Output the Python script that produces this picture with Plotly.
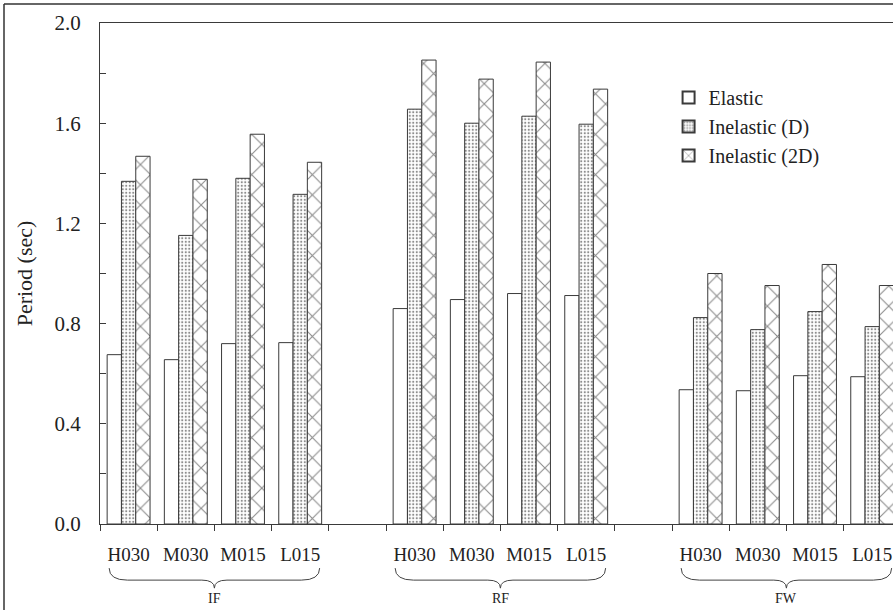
import plotly.graph_objects as go

groups = ["IF", "RF", "FW"]
categories = ["H030", "M030", "M015", "L015"]
series_names = ["Elastic", "Inelastic (D)", "Inelastic (2D)"]

elastic = [0.676, 0.656, 0.720, 0.724,
           0.860, 0.896, 0.920, 0.912,
           0.536, 0.532, 0.592, 0.588]
inelastic_d = [1.368, 1.152, 1.380, 1.316,
               1.656, 1.600, 1.628, 1.596,
               0.824, 0.776, 0.848, 0.788]
inelastic_2d = [1.468, 1.376, 1.556, 1.444,
                1.852, 1.776, 1.844, 1.736,
                1.000, 0.952, 1.036, 0.952]

y_ticks = [0.0, 0.4, 0.8, 1.2, 1.6, 2.0]

FONT = "Liberation Serif, Times New Roman, serif"
LINE = "#3a3a3a"

# slot positions: 4 categories per group, one empty slot between groups
slot = len(categories) + 1
xpos = [g * slot + i for g in range(len(groups)) for i in range(len(categories))]
xlabels = [c for g in groups for c in categories]

styles = [
    dict(shape="", fg="#333333", size=8, sol=0.2),
    dict(shape=".", fg="#1a1a1a", size=3.5, sol=0.3),
    dict(shape="x", fg="#1a1a1a", size=14.3, sol=0.15),
]

fig = go.Figure()
for name, vals, st in zip(series_names, [elastic, inelastic_d, inelastic_2d], styles):
    marker = dict(color="white", line=dict(color=LINE, width=1))
    if st["shape"]:
        marker["pattern"] = dict(shape=st["shape"], fgcolor=st["fg"], bgcolor="white",
                                 size=st["size"], solidity=st["sol"], fillmode="overlay")
    fig.add_trace(go.Bar(x=xpos, y=vals, name=name, marker=marker))

n_slots = len(groups) * slot - 1
x_range = [-0.5, -0.5 + 793 / 57.2]

fig.update_layout(
    width=893, height=610,
    margin=dict(l=100, r=0, t=23, b=86),
    paper_bgcolor="white", plot_bgcolor="white",
    barmode="group", bargap=0.25, bargroupgap=0,
    font=dict(family=FONT, size=20, color="#222222"),
    showlegend=True,
    legend=dict(x=0.717, y=0.89, xanchor="left", yanchor="top",
                bgcolor="rgba(0,0,0,0)", font=dict(size=20, family=FONT),
                tracegroupgap=0, itemsizing="constant"),
)

fig.update_xaxes(
    range=x_range, showgrid=False, zeroline=False,
    showline=True, linecolor=LINE, linewidth=1, mirror=True,
    tickmode="array", tickvals=xpos, ticktext=xlabels, ticks="",
    tickfont=dict(size=19, family=FONT), ticklabelstandoff=13,
    minor=dict(tickmode="array", tickvals=[k - 0.5 for k in range(n_slots + 2)],
               ticks="outside", ticklen=6, tickcolor=LINE, showgrid=False),
)
fig.update_yaxes(
    range=[0, 2.0], showgrid=False, zeroline=False,
    showline=True, linecolor=LINE, linewidth=1, mirror=False,
    tickmode="array", tickvals=y_ticks, ticktext=[f"{v:.1f}" for v in y_ticks],
    ticks="inside", ticklen=6, tickcolor=LINE, ticklabelstandoff=14,
    tickfont=dict(size=21, family=FONT),
    minor=dict(tickmode="linear", tick0=0, dtick=0.2, ticks="inside", ticklen=6,
               tickcolor=LINE, showgrid=False),
    title=dict(text="Period (sec)", font=dict(size=22, family=FONT), standoff=15),
)

# braces under each group
y_top, y_mid, y_bot = -0.088, -0.112, -0.128
for g, gname in enumerate(groups):
    x0 = g * slot - 0.34
    x1 = g * slot + len(categories) - 1 + 0.34
    xc = (x0 + x1) / 2
    d, dc = 0.32, 0.22
    path = (f"M {x0},{y_top} Q {x0},{y_mid} {x0 + d},{y_mid} "
            f"L {xc - dc},{y_mid} Q {xc},{y_mid} {xc},{y_bot} "
            f"Q {xc},{y_mid} {xc + dc},{y_mid} "
            f"L {x1 - d},{y_mid} Q {x1},{y_mid} {x1},{y_top}")
    fig.add_shape(type="path", path=path, xref="x", yref="paper",
                  line=dict(color="#444444", width=1))
    fig.add_annotation(x=xc, y=-0.148, xref="x", yref="paper", text=gname,
                       showarrow=False, yanchor="middle",
                       font=dict(size=14, family=FONT, color="#222222"))

# outer frame
fx = (4 - 100) / 793
fy = 1 + (23 - 4) / 501
fig.add_shape(type="line", xref="paper", yref="paper", x0=fx, x1=fx, y0=-0.5, y1=fy,
              line=dict(color="#333333", width=1.5))
fig.add_shape(type="line", xref="paper", yref="paper", x0=fx, x1=1.5, y0=fy, y1=fy,
              line=dict(color="#333333", width=1.5))

fig.write_html(
    "out.html",
    config={"displayModeBar": False},
    post_script="document.body.style.margin='0';document.documentElement.style.overflow='hidden';",
)
